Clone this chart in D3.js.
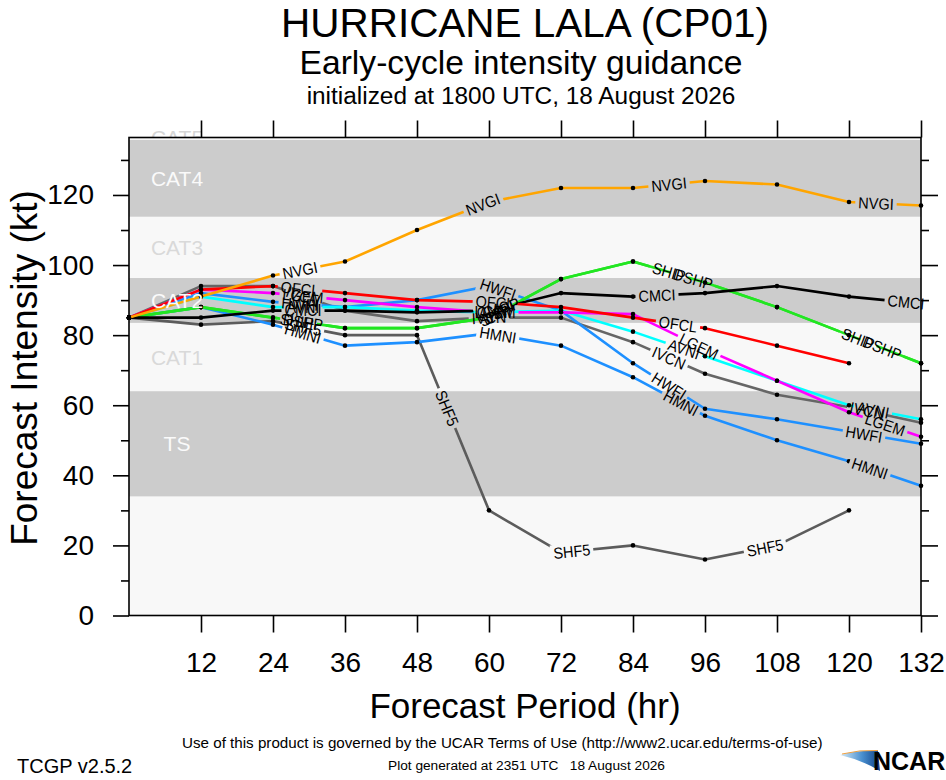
<!DOCTYPE html>
<html><head><meta charset="utf-8">
<script src="https://cdn.jsdelivr.net/npm/d3@7"></script>
<style>
body{margin:0;background:#fff}
svg{display:block}
text{font-family:"Liberation Sans", Arial, Helvetica, sans-serif}
</style>
</head><body>
<svg id="c" width="946" height="780"></svg>
<script>
// ---------------- data ----------------
const hours = [0,12,24,36,48,60,72,84,96,108,120,132];
const SHF5 = [85, 83, 84, 80, 80, 30, 18, 20, 16, 20, 30, null];
const IVCN = [85, 94, 94, 87, 84, 85, 85, 78, 69, 63, 59.5, 55];
const HMNI = [85, 88, 83, 77, 78, 80.5, 77, 68, 57, 50, 44, 37];
const HWFI = [85, 92, 89.5, 88, 90, 94, 87, 72, 59, 56, 52.5, 49];
const AVNI = [85, 91, 88, 88, 87, 86.5, 87, 81, 74, 67, 60, 56];
const LGEM = [85, 93, 92, 90, 88, 86.5, 86.5, 86, 76, 67, 58, 51];
const SHIP = [85, 88, 85, 82, 82, 85, 96, 101, 95, 88, 80, 72];
const DSHP = [85, 88, 85, 82, 82, 85, 96, 101, 95, 88, 80, 72];
const CMCI = [85, 85, 87, 87, 86.5, 87, 92, 91, 92, 94, 91, 89];
const OFCL = [85, 93, 94, 92, 90, 89.5, 88, 85, 82, 77, 72, null];
const NVGI = [85, 91, 97, 101, 110, 118, 122, 122, 124, 123, 118, 117];

// hours at which each model's name is written along its line
const SHF5_lab = [29, 53, 73.8, 106];
const IVCN_lab = [29, 60, 90, 123];
const HMNI_lab = [29, 61.5, 92, 123.5];
const HWFI_lab = [28.5, 61.5, 90, 122.5];
const AVNI_lab = [29, 61, 92.5, 124];
const LGEM_lab = [29, 61, 95, 126];
const SHIP_lab = [28, 61, 90, 121.5];
const DSHP_lab = [29, 62, 94, 125.5];
const CMCI_lab = [29, 61, 88, 129.5];
const OFCL_lab = [28.5, 61, 91.5];
const NVGI_lab = [28.5, 59, 90, 124.5];

const modelNames = ["SHF5","IVCN","HMNI","HWFI","AVNI","LGEM","SHIP","DSHP","CMCI","OFCL","NVGI"];
const modelValues = [SHF5, IVCN, HMNI, HWFI, AVNI, LGEM, SHIP, DSHP, CMCI, OFCL, NVGI];
const modelLabels = [SHF5_lab, IVCN_lab, HMNI_lab, HWFI_lab, AVNI_lab, LGEM_lab, SHIP_lab, DSHP_lab, CMCI_lab, OFCL_lab, NVGI_lab];
const modelColors = ["#5c5c5c","#666666","#1e90ff","#1e90ff","#00ffff","#ff00ff","#22e622","#22e622","#000000","#ff0000","#ffa500"];

const xTicks = [12,24,36,48,60,72,84,96,108,120,132];
const yTicks = [0,20,40,60,80,100,120];
const yMinor = [10,30,50,70,90,110,130];

const bandNames = ["TS","CAT1","CAT2","CAT3","CAT4"];
const bandLow  = [34, 64, 83.5, 96.3, 113.8];
const bandHigh = [64, 83.5, 96.3, 113.8, 135.7];
const bandGray = [true, false, true, false, true];

// ---------------- drawing ----------------
const W = 946, H = 780;
const svg = d3.select("#c");
const defs = svg.append("defs");
const x = d3.scaleLinear().domain([0,132]).range([129,921]);
const yMax = 136.4;
const y = d3.scaleLinear().domain([0,yMax]).range([615.5,137.5]);
const FONT = '"Liberation Sans", Arial, Helvetica, sans-serif';

function fit(sel, target){
  const w = sel.node().getComputedTextLength();
  const fs = parseFloat(sel.attr("font-size"));
  sel.attr("font-size", (fs*target/w).toFixed(2));
}

// CAT5 label (mostly hidden by the plot area drawn over it)
svg.append("text").attr("x",177).attr("y",y(yMax)).attr("dy","0.36em")
  .attr("text-anchor","middle").attr("font-size",21).attr("fill","#d6d6d6").text("CAT5");

// plot background + bands
svg.append("rect").attr("x",x(0)).attr("y",y(yMax)).attr("width",x(132)-x(0)).attr("height",y(0)-y(yMax)).attr("fill","#f8f8f8");
bandNames.forEach((b,i)=>{
  if(bandGray[i]) svg.append("rect").attr("x",x(0)).attr("y",y(bandHigh[i]))
    .attr("width",x(132)-x(0)).attr("height",y(bandLow[i])-y(bandHigh[i])).attr("fill","#cccccc");
});

// axes
function styleAxis(g){
  g.select(".domain").remove();
  g.attr("font-family",FONT);
  g.selectAll(".tick line").attr("stroke","#000").attr("stroke-width",1.6);
  g.selectAll(".tick text").attr("fill","#000");
}
const gx = svg.append("g").attr("transform",`translate(0,${y(0)})`)
  .call(d3.axisBottom(x).tickValues(xTicks).tickSize(17).tickPadding(20));
styleAxis(gx); gx.attr("font-size",28);
const gxt = svg.append("g").attr("transform",`translate(0,${y(yMax)})`)
  .call(d3.axisTop(x).tickValues(xTicks).tickSize(17).tickFormat(""));
styleAxis(gxt);
const gy = svg.append("g").attr("transform",`translate(${x(0)},0)`)
  .call(d3.axisLeft(y).tickValues(yTicks).tickSize(16).tickPadding(19));
styleAxis(gy); gy.attr("font-size",28);
const gym = svg.append("g").attr("transform",`translate(${x(0)},0)`)
  .call(d3.axisLeft(y).tickValues(yMinor).tickSize(8).tickFormat(""));
styleAxis(gym);
const gyr = svg.append("g").attr("transform",`translate(${x(132)},0)`)
  .call(d3.axisRight(y).tickValues(yTicks).tickSize(17).tickFormat(""));
styleAxis(gyr);
const gyrm = svg.append("g").attr("transform",`translate(${x(132)},0)`)
  .call(d3.axisRight(y).tickValues(yMinor).tickSize(8).tickFormat(""));
styleAxis(gyrm);

// frame
svg.append("rect").attr("x",x(0)).attr("y",y(yMax)).attr("width",x(132)-x(0)).attr("height",y(0)-y(yMax))
  .attr("fill","none").attr("stroke","#000").attr("stroke-width",1.6);

// series
const line = d3.line().defined(d=>d[1]!=null).x(d=>x(d[0])).y(d=>y(d[1]));
const seriesG = svg.append("g");
const labelG = svg.append("g").attr("font-size",14.5).attr("fill","#000");

function posAt(vals, h){
  let i = 0;
  while(i < hours.length-2 && h > hours[i+1]) i++;
  const v0 = vals[i], v1 = vals[i+1];
  const t = (h-hours[i])/(hours[i+1]-hours[i]);
  const px = x(h), py = y(v0 + t*(v1-v0));
  const ang = Math.atan2(y(v1)-y(v0), x(hours[i+1])-x(hours[i]))*180/Math.PI;
  return [px,py,ang];
}

modelNames.forEach((name,k)=>{
  const vals = modelValues[k];
  const pts = hours.map((h,j)=>[h, vals[j]]);
  const mask = defs.append("mask").attr("id","mask-"+name).attr("maskUnits","userSpaceOnUse")
    .attr("x",0).attr("y",0).attr("width",W).attr("height",H);
  mask.append("rect").attr("width",W).attr("height",H).attr("fill","#fff");
  const g = seriesG.append("g").attr("mask",`url(#mask-${name})`);
  g.append("path").datum(pts).attr("d",line).attr("fill","none")
    .attr("stroke",modelColors[k]).attr("stroke-width",2.6).attr("stroke-linejoin","round");
  g.selectAll("circle").data(pts.filter(d=>d[1]!=null)).join("circle")
    .attr("cx",d=>x(d[0])).attr("cy",d=>y(d[1])).attr("r",2.3).attr("fill","#000");
  modelLabels[k].forEach(h=>{
    const [px,py,ang] = posAt(vals,h);
    const t = labelG.append("text").attr("text-anchor","middle").attr("dy","0.36em")
      .attr("transform",`translate(${px},${py}) rotate(${ang}) scale(1,1.1)`).text(name);
    const w = t.node().getComputedTextLength();
    mask.append("rect").attr("x",-w/2-3).attr("y",-8).attr("width",w+6).attr("height",16)
      .attr("fill","#000").attr("transform",`translate(${px},${py}) rotate(${ang})`);
  });
});

// band labels are written over the lines
bandNames.forEach((b,i)=>{
  svg.append("text").attr("x",177).attr("y",y((bandLow[i]+bandHigh[i])/2)).attr("dy","0.36em")
    .attr("text-anchor","middle").attr("font-size",21)
    .attr("fill", bandGray[i] ? "#fafafa" : "#d9d9d9").text(b);
});

// titles
const t1 = svg.append("text").attr("x",525).attr("y",37).attr("text-anchor","middle").attr("font-size",40)
  .text("HURRICANE LALA (CP01)");
fit(t1, 488);
const t2 = svg.append("text").attr("x",521).attr("y",74).attr("text-anchor","middle").attr("font-size",33).text("Early-cycle intensity guidance");
fit(t2, 443);
const t3 = svg.append("text").attr("x",521).attr("y",104).attr("text-anchor","middle").attr("font-size",24).text("initialized at 1800 UTC, 18 August 2026");
fit(t3, 429);

// axis titles
svg.append("text").attr("x",525).attr("y",718).attr("text-anchor","middle").attr("font-size",35).text("Forecast Period (hr)");
svg.append("text").attr("transform",`translate(37,368) rotate(-90)`).attr("text-anchor","middle")
  .attr("font-size",37).text("Forecast Intensity (kt)");

// footer
const f1 = svg.append("text").attr("x",182).attr("y",748).attr("font-size",15)
  .text("Use of this product is governed by the UCAR Terms of Use (http://www2.ucar.edu/terms-of-use)");
fit(f1, 641);
svg.append("text").attr("x",17).attr("y",773).attr("font-size",20).text("TCGP v2.5.2");
const f2 = svg.append("text").attr("x",388).attr("y",770).attr("font-size",14).attr("xml:space","preserve")
  .style("white-space","pre").text("Plot generated at 2351 UTC   18 August 2026");
fit(f2, 277);

// NCAR logo
const grad = defs.append("linearGradient").attr("id","ncarGrad").attr("x1","0").attr("x2","1").attr("y1","0").attr("y2","0");
grad.append("stop").attr("offset","0").attr("stop-color","#d8ecf8");
grad.append("stop").attr("offset","0.55").attr("stop-color","#4a90d0");
grad.append("stop").attr("offset","1").attr("stop-color","#0d3f86");
svg.append("path").attr("d","M840,755 Q858,750 878,751 L880,771 Q862,760 840,755 Z").attr("fill","url(#ncarGrad)");
svg.append("path").attr("d","M842,754 Q860,749.5 878,750.5").attr("fill","none").attr("stroke","#f0a040").attr("stroke-width",1);
svg.append("text").attr("x",873).attr("y",770).attr("font-size",25).attr("font-weight","bold").text("NCAR");
</script>
</body></html>
